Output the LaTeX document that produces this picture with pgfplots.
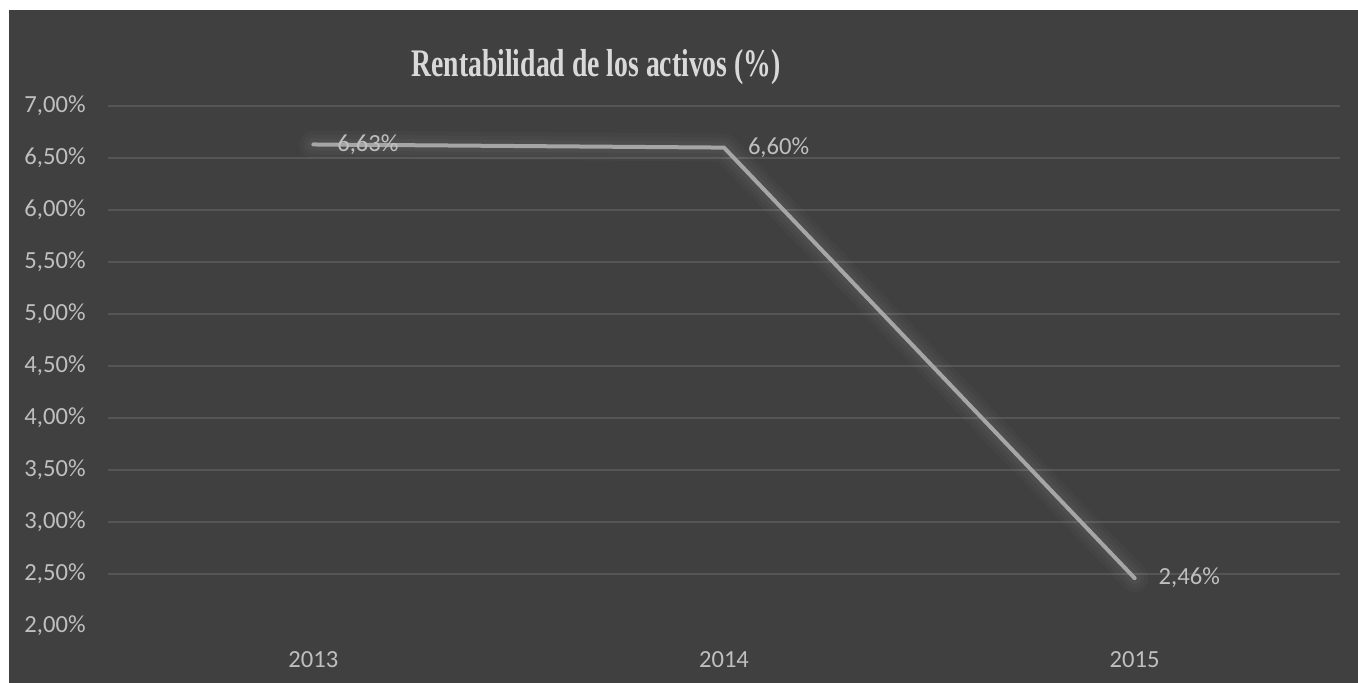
\documentclass[border=0pt]{standalone}
\usepackage{pgfplots}
\pgfplotsset{compat=1.18}
\usepackage{fontspec}
\setmainfont{Carlito}
\newfontfamily\titlefont{Liberation Serif}
\usepackage{graphicx}

\definecolor{bg}{HTML}{404040}
\definecolor{gridc}{HTML}{555555}
\definecolor{labc}{HTML}{BFBFBF}
\definecolor{linec}{HTML}{A6A6A6}
\definecolor{titlec}{HTML}{D9D9D9}

% 1 px of the reference = 0.5pt
\begin{document}
\begin{tikzpicture}
\fill[white] (0,0) rectangle (679pt,341.5pt);
\fill[bg] (4.5pt,0) rectangle (679pt,336.5pt);

\node[anchor=base, text=titlec, inner sep=0pt] at (298pt,303pt)
  {\scalebox{0.71}[1]{\titlefont\fontsize{19.5pt}{22pt}\selectfont\bfseries Rentabilidad de los activos (\%)}};

\begin{axis}[
    at={(54pt,28.5pt)}, anchor=south west,
    scale only axis,
    width=616pt, height=260pt,
    xmin=-0.5, xmax=2.5,
    ymin=2, ymax=7,
    axis line style={draw=none},
    major tick length=0pt,
    xtick={0,1,2},
    xticklabels={2013,2014,2015},
    ytick={2,2.5,...,7},
    yticklabels={{2,00\%},{2,50\%},{3,00\%},{3,50\%},{4,00\%},{4,50\%},{5,00\%},{5,50\%},{6,00\%},{6,50\%},{7,00\%}},
    extra y ticks={2.5,3,...,7},
    extra y tick labels={},
    extra y tick style={grid=major, major grid style={gridc, line width=0.6pt}},
    ticklabel style={font=\fontsize{12.3pt}{14pt}\selectfont, text=labc, inner sep=0pt},
    yticklabel style={anchor=east, xshift=-11pt},
    xticklabel style={anchor=north, yshift=-12.5pt},
    clip=false,
]
% soft glow around the line
\addplot[white, opacity=0.025, line width=14pt, line cap=round, line join=round] coordinates {(0,6.63) (1,6.60) (2,2.46)};
\addplot[white, opacity=0.025, line width=10pt, line cap=round, line join=round] coordinates {(0,6.63) (1,6.60) (2,2.46)};
\addplot[white, opacity=0.03, line width=6pt, line cap=round, line join=round] coordinates {(0,6.63) (1,6.60) (2,2.46)};
% data
\addplot[linec, line width=2pt, line cap=round, line join=miter,
    nodes near coords, point meta=explicit symbolic,
    every node near coord/.append style={anchor=west, xshift=11pt, inner sep=0pt,
        text=labc, font=\fontsize{12.3pt}{14pt}\selectfont}]
  coordinates {(0,6.63) [6,63\%] (1,6.60) [6,60\%] (2,2.46) [2,46\%]};
\end{axis}
\end{tikzpicture}
\end{document}
